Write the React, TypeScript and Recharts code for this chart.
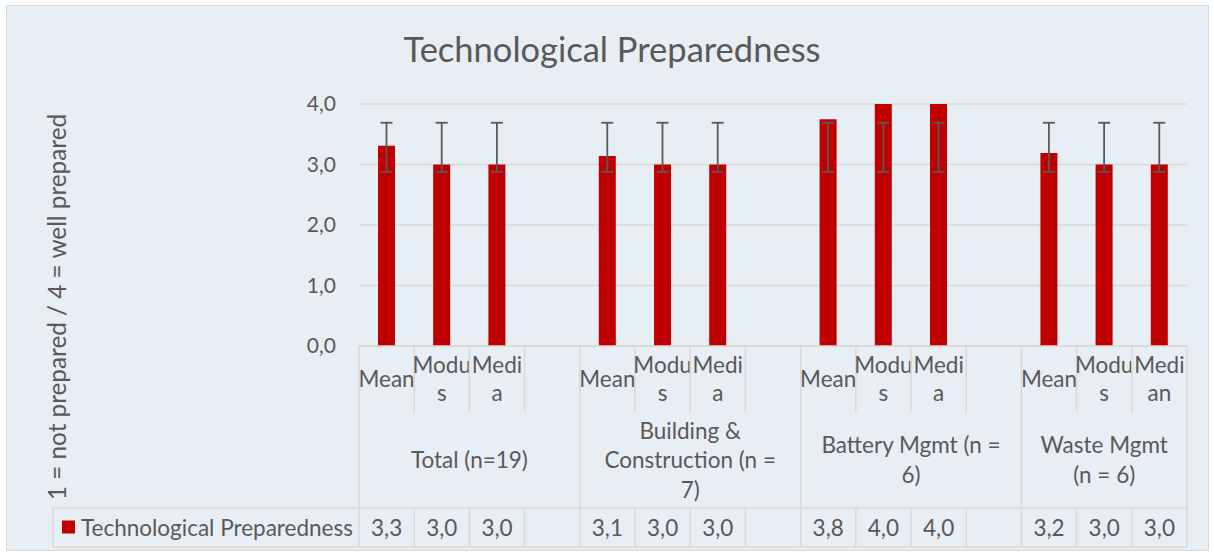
import React from 'react';
import { BarChart, Bar, XAxis, YAxis, CartesianGrid, ErrorBar } from 'recharts';

const SERIES_NAME = 'Technological Preparedness';
const Y_LABEL = '1 = not prepared / 4 = well prepared';

const groups = ['Total (n=19)', 'Building & Construction (n = 7)', 'Battery Mgmt (n = 6)', 'Waste Mgmt (n = 6)'];
const statLabels = [
  ['Mean', 'Modus', 'Media'],
  ['Mean', 'Modus', 'Media'],
  ['Mean', 'Modus', 'Media'],
  ['Mean', 'Modus', 'Median'],
];
const preparedness = [
  [3.31, 3.0, 3.0],
  [3.14, 3.0, 3.0],
  [3.75, 4.0, 4.0],
  [3.19, 3.0, 3.0],
];
// error bar ends as drawn in the source (same custom range on every bar)
const errorLow = [
  [2.88, 2.88, 2.88],
  [2.88, 2.88, 2.88],
  [2.88, 2.88, 2.88],
  [2.88, 2.88, 2.88],
];
const errorHigh = [
  [3.69, 3.69, 3.69],
  [3.69, 3.69, 3.69],
  [3.69, 3.69, 3.69],
  [3.69, 3.69, 3.69],
];
const yTicks = [0, 1, 2, 3, 4];

const W = 1214;
const H = 556;
const PLOT_LEFT = 359;
const PLOT_RIGHT = 1187;
const PLOT_TOP = 104;
const PLOT_BOTTOM = 346;
const SUB_H = 66;
const GRP_H = 96;
const VAL_H = 39;
const Y_W = 80;
const LEGEND_LEFT = 53;

const FONT = 'Lato, "Noto Sans", sans-serif';
const TEXT = '#595959';
const LINE = '#D9D9D9';
const BG = '#E7EEF4';
const BAR = '#C00000';
const FS = 22.5;

type Row = { id: string; group: number; label: string; value: number | null; err?: number[] };

const rows: Row[] = [];
groups.forEach((g, gi) => {
  statLabels[gi].forEach((s, si) => {
    const v = preparedness[gi][si];
    rows.push({ id: `${gi}-${si}`, group: gi, label: s, value: v, err: [v - errorLow[gi][si], errorHigh[gi][si] - v] });
  });
  if (gi < groups.length - 1) rows.push({ id: `sep-${gi}`, group: gi, label: '', value: null });
});

const SLOT = (PLOT_RIGHT - PLOT_LEFT) / rows.length;
const fmt = (v: number) => v.toFixed(1).replace('.', ',');

function wrapText(text: string, maxChars: number) {
  const lines: string[] = [];
  let cur = '';
  for (const word of text.split(' ')) {
    const next = cur ? cur + ' ' + word : word;
    if (next.length <= maxChars) { cur = next; continue; }
    if (cur) lines.push(cur);
    let w = word;
    while (w.length > maxChars) { lines.push(w.slice(0, maxChars)); w = w.slice(maxChars); }
    cur = w;
  }
  if (cur) lines.push(cur);
  return lines;
}

function lineTexts(lines: string[], cx: number, mid: number, gap: number) {
  const first = mid - ((lines.length - 1) * gap) / 2;
  return lines.map((l, i) => (
    <text key={i} x={cx} y={first + i * gap + 8} textAnchor="middle" fill={TEXT} fontSize={FS} fontFamily={FONT}>{l}</text>
  ));
}

function TableTick(props: any) {
  const { x, y, payload } = props;
  const idx = rows.findIndex(r => r.id === payload.value);
  if (idx < 0) return null;
  const row = rows[idx];
  const left = x - SLOT / 2;
  const right = x + SLOT / 2;
  const top = y;
  const grpTop = top + SUB_H;
  const valTop = grpTop + GRP_H;
  const bottom = valTop + VAL_H;
  const isLast = idx === rows.length - 1;
  const groupStart = idx === 0 || rows[idx - 1].group !== row.group;
  const ln = { stroke: LINE, strokeWidth: 1.5 };

  let groupEl = null;
  if (groupStart) {
    const span = rows.filter(r => r.group === row.group).length;
    const width = span * SLOT;
    const lines = wrapText(groups[row.group], Math.floor((width - 40) / 10.5));
    groupEl = lineTexts(lines, left + width / 2, grpTop + GRP_H / 2, 29.5);
  }

  return (
    <g>
      <line x1={left} y1={top} x2={left} y2={grpTop} {...ln} />
      {isLast && <line x1={right} y1={top} x2={right} y2={bottom} {...ln} />}
      {groupStart && <line x1={left} y1={grpTop} x2={left} y2={valTop} {...ln} />}
      <line x1={left} y1={valTop} x2={left} y2={bottom} {...ln} />
      <line x1={left} y1={valTop} x2={right} y2={valTop} {...ln} />
      <line x1={left} y1={bottom} x2={right} y2={bottom} {...ln} />
      {row.label && lineTexts(wrapText(row.label, Math.floor(SLOT / 13.5)), x, top + SUB_H / 2, 28)}
      {groupEl}
      {row.value != null && (
        <text x={x} y={valTop + VAL_H / 2 + 8} textAnchor="middle" fill={TEXT} fontSize={FS} fontFamily={FONT}>{fmt(row.value)}</text>
      )}
      {idx === 0 && (
        <g>
          <line x1={LEGEND_LEFT} y1={valTop} x2={LEGEND_LEFT} y2={bottom} {...ln} />
          <line x1={LEGEND_LEFT} y1={valTop} x2={left} y2={valTop} {...ln} />
          <line x1={LEGEND_LEFT} y1={bottom} x2={left} y2={bottom} {...ln} />
          <rect x={62} y={valTop + VAL_H / 2 - 7} width={13} height={13} fill={BAR} />
          <text x={81} y={valTop + VAL_H / 2 + 8} fill={TEXT} fontSize={FS} fontFamily={FONT}>{SERIES_NAME}</text>
        </g>
      )}
    </g>
  );
}

export default function App() {
  return (
    <div style={{ position: 'absolute', left: 0, top: 0, width: W, height: H, background: '#fff' }}>
      <div style={{ position: 'absolute', left: 6, top: 5, width: 1203, height: 546, background: BG, border: `1px solid ${LINE}`, boxSizing: 'border-box' }} />
      <div style={{ position: 'absolute', left: 0, top: 0 }}>
        <BarChart
          width={W}
          height={H}
          data={rows}
          margin={{ top: PLOT_TOP, right: W - PLOT_RIGHT, left: PLOT_LEFT - Y_W, bottom: H - PLOT_BOTTOM - SUB_H - GRP_H - VAL_H }}
        >
          <CartesianGrid vertical={false} stroke={LINE} strokeWidth={1.5} />
          <XAxis
            dataKey="id"
            type="category"
            height={SUB_H + GRP_H + VAL_H}
            interval={0}
            tickLine={false}
            tickSize={0}
            tickMargin={0}
            axisLine={{ stroke: LINE, strokeWidth: 1.5 }}
            tick={(p: any) => <TableTick {...p} />}
          />
          <YAxis
            width={Y_W}
            domain={[0, 4]}
            ticks={yTicks}
            allowDataOverflow
            tickFormatter={fmt}
            axisLine={false}
            tickLine={false}
            tickSize={0}
            tickMargin={23}
            tick={{ fill: TEXT, fontSize: 21, fontFamily: FONT }}
          />
          <Bar dataKey="value" name={SERIES_NAME} fill={BAR} barSize={17} isAnimationActive={false}>
            <ErrorBar dataKey="err" direction="y" width={6} stroke="#595959" strokeWidth={1.8} isAnimationActive={false} />
          </Bar>
        </BarChart>
      </div>
      <svg width={W} height={H} style={{ position: 'absolute', left: 0, top: 0, pointerEvents: 'none' }}>
        <text x={612} y={62} textAnchor="middle" fill={TEXT} fontSize={34.5} fontFamily={FONT}>Technological Preparedness</text>
        <text x={66} y={307} transform="rotate(-90 66 307)" textAnchor="middle" fill={TEXT} fontSize={24.3} fontFamily={FONT}>{Y_LABEL}</text>
      </svg>
    </div>
  );
}
